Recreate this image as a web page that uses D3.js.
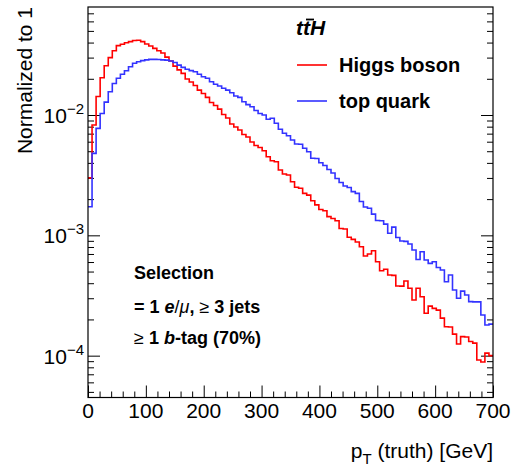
<!DOCTYPE html>
<html><head><meta charset="utf-8">
<script src="https://cdn.jsdelivr.net/npm/d3@7"></script>
<style>
body{margin:0;background:#fff}
svg{display:block}
text{font-family:"Liberation Sans",Arial,Helvetica,sans-serif;fill:#000}
</style></head>
<body><svg id="c" width="512" height="470"></svg>
<script>
// ---- data (bins of 7 GeV from 0 to 700) ----
const binWidth = 7;
const xTicks = [0, 100, 200, 300, 400, 500, 600, 700];
const yTicks = [1e-4, 1e-3, 1e-2];
const yTickExp = ["\u22124", "\u22123", "\u22122"];
const seriesNames = ["Higgs boson", "top quark"];
const higgs = [3.00e-3, 8.26e-3, 1.425e-2, 2.04e-2, 2.57e-2, 3.00e-2, 3.42e-2, 3.77e-2, 3.87e-2, 3.99e-2,
4.07e-2, 4.16e-2, 4.18e-2, 4.07e-2, 3.89e-2, 3.75e-2, 3.58e-2, 3.42e-2, 3.28e-2, 3.03e-2,
2.81e-2, 2.55e-2, 2.37e-2, 2.22e-2, 1.99e-2, 1.88e-2, 1.76e-2, 1.61e-2, 1.51e-2, 1.40e-2,
1.27e-2, 1.20e-2, 1.12e-2, 1.01e-2, 9.44e-3, 8.42e-3, 7.95e-3, 7.50e-3, 6.88e-3, 6.56e-3,
5.96e-3, 5.58e-3, 5.37e-3, 5.05e-3, 4.50e-3, 4.17e-3, 4.09e-3, 3.49e-3, 3.23e-3, 3.17e-3,
2.79e-3, 2.51e-3, 2.46e-3, 2.23e-3, 2.16e-3, 1.94e-3, 1.79e-3, 1.64e-3, 1.60e-3, 1.43e-3,
1.38e-3, 1.32e-3, 1.14e-3, 1.13e-3, 9.63e-4, 9.26e-4, 8.80e-4, 8.04e-4, 6.73e-4, 6.99e-4,
7.45e-4, 6.03e-4, 5.08e-4, 5.22e-4, 4.68e-4, 4.65e-4, 3.79e-4, 3.78e-4, 4.17e-4, 3.63e-4,
2.90e-4, 3.63e-4, 3.09e-4, 2.25e-4, 2.58e-4, 2.47e-4, 2.39e-4, 2.05e-4, 1.74e-4, 1.73e-4,
1.51e-4, 1.25e-4, 1.44e-4, 1.43e-4, 1.31e-4, 1.27e-4, 9.19e-5, 8.85e-5, 1.05e-4, 1.00e-4];
const topq = [1.73e-3, 4.80e-3, 7.75e-3, 1.03e-2, 1.28e-2, 1.56e-2, 1.83e-2, 2.02e-2, 2.18e-2, 2.33e-2,
2.52e-2, 2.69e-2, 2.77e-2, 2.83e-2, 2.87e-2, 2.90e-2, 2.90e-2, 2.89e-2, 2.87e-2, 2.86e-2,
2.81e-2, 2.73e-2, 2.60e-2, 2.49e-2, 2.40e-2, 2.34e-2, 2.29e-2, 2.18e-2, 2.08e-2, 2.02e-2,
1.89e-2, 1.80e-2, 1.74e-2, 1.67e-2, 1.61e-2, 1.53e-2, 1.44e-2, 1.40e-2, 1.29e-2, 1.22e-2,
1.17e-2, 1.09e-2, 1.03e-2, 1.00e-2, 9.21e-3, 9.39e-3, 8.53e-3, 7.61e-3, 7.05e-3, 6.73e-3,
6.20e-3, 5.74e-3, 5.72e-3, 5.29e-3, 4.95e-3, 4.37e-3, 4.35e-3, 4.01e-3, 3.80e-3, 3.52e-3,
3.30e-3, 2.97e-3, 2.75e-3, 2.57e-3, 2.50e-3, 2.31e-3, 2.23e-3, 1.91e-3, 1.72e-3, 1.68e-3,
1.50e-3, 1.33e-3, 1.32e-3, 1.24e-3, 1.04e-3, 1.17e-3, 9.59e-4, 8.97e-4, 8.90e-4, 8.47e-4,
7.55e-4, 6.29e-4, 7.30e-4, 6.23e-4, 5.85e-4, 6.03e-4, 5.40e-4, 5.15e-4, 4.11e-4, 4.68e-4,
3.51e-4, 3.00e-4, 3.44e-4, 3.19e-4, 2.81e-4, 2.80e-4, 2.80e-4, 2.18e-4, 1.80e-4, 1.83e-4];

// ---- layout ----
const L = 88, R = 493, T = 7, B = 397.5;
const svg = d3.select("#c");
const x = d3.scaleLinear([0, 700], [L, R]);
const y = d3.scaleLog([4.49e-5, 0.079], [B, T]);
const colors = ["#ff0000", "#3333ff"];

// minor ticks
const xMinor = d3.range(0, 701, 20).filter(v => v % 100 !== 0);
const yMinor = [];
for (let e = -5; e <= -2; e++) for (let k = 2; k <= 9; k++) {
  const v = k * Math.pow(10, e);
  if (v >= y.domain()[0] && v <= y.domain()[1]) yMinor.push(v);
}
function axisG(axis, tr) {
  const g = svg.append("g").attr("transform", tr).call(axis);
  g.select(".domain").remove();
  g.selectAll("line").attr("stroke", "#000").attr("stroke-width", 1);
  return g;
}
axisG(d3.axisBottom(x).tickValues(xTicks).tickSize(-12).tickFormat(""), `translate(0,${B})`);
axisG(d3.axisBottom(x).tickValues(xMinor).tickSize(-6).tickFormat(""), `translate(0,${B})`);
axisG(d3.axisLeft(y).tickValues(yTicks).tickSize(-12).tickFormat(""), `translate(${L},0)`);
axisG(d3.axisLeft(y).tickValues(yMinor).tickSize(-6).tickFormat(""), `translate(${L},0)`);
axisG(d3.axisRight(y).tickValues(yTicks).tickSize(-12).tickFormat(""), `translate(${R},0)`);
axisG(d3.axisRight(y).tickValues(yMinor).tickSize(-6).tickFormat(""), `translate(${R},0)`);

// histograms
const line = d3.line().x(d => x(d[0])).y(d => y(d[1])).curve(d3.curveStepAfter);
[higgs, topq].forEach((s, si) => {
  const pts = s.map((v, i) => [i * binWidth, v]);
  pts.push([s.length * binWidth, s[s.length - 1]]);
  svg.append("path").attr("d", line(pts)).attr("fill", "none")
    .attr("stroke", colors[si]).attr("stroke-width", 1.6);
});

// frame
svg.append("rect").attr("x", L).attr("y", T).attr("width", R - L).attr("height", B - T)
  .attr("fill", "none").attr("stroke", "#000").attr("stroke-width", 1.2);

// x tick labels
svg.append("g").selectAll("text").data(xTicks).join("text")
  .attr("x", d => x(d)).attr("y", 418).attr("text-anchor", "middle")
  .attr("font-size", 21).text(d => d);
// y tick labels
yTicks.forEach((v, i) => {
  const t = svg.append("text").attr("x", 84).attr("y", y(v) + 8).attr("text-anchor", "end").attr("font-size", 21);
  t.append("tspan").text("10");
  t.append("tspan").attr("dy", -9).attr("font-size", 15).text(yTickExp[i]);
});

// axis titles
const xt = svg.append("text").attr("x", R).attr("y", 458).attr("text-anchor", "end").attr("font-size", 21);
xt.append("tspan").text("p");
xt.append("tspan").attr("dy", 6).attr("font-size", 15).text("T");
xt.append("tspan").attr("dy", -6).text(" (truth) [GeV]");
svg.append("text").attr("transform", `translate(31.5,${T}) rotate(-90)`).attr("text-anchor", "end")
  .attr("font-size", 21).text("Normalized to 1");

// legend
const tth = svg.append("text").attr("x", 296).attr("y", 35).attr("font-size", 21)
  .attr("font-weight", "bold").attr("font-style", "italic").text("ttH");
const n = tth.node();
const s1 = n.getStartPositionOfChar(1).x, e1 = n.getEndPositionOfChar(1).x;
svg.append("line").attr("x1", s1 + 3).attr("x2", e1 + 4).attr("y1", 19.5).attr("y2", 19.5)
  .attr("stroke", "#000").attr("stroke-width", 1.8);
const legY = [65, 101];
seriesNames.forEach((nm, i) => {
  svg.append("line").attr("x1", 297).attr("x2", 327).attr("y1", legY[i]).attr("y2", legY[i])
    .attr("stroke", colors[i]).attr("stroke-width", 1.6);
  svg.append("text").attr("x", 339).attr("y", legY[i] + 7).attr("font-size", 20)
    .attr("font-weight", "bold").text(nm);
});

// selection text
svg.append("text").attr("x", 134).attr("y", 279).attr("font-size", 18).attr("font-weight", "bold").text("Selection");
const l2 = svg.append("text").attr("x", 134).attr("y", 313).attr("font-size", 18).attr("font-weight", "bold");
l2.append("tspan").text("= 1 ");
l2.append("tspan").attr("font-style", "italic").text("e");
l2.append("tspan").attr("font-weight", "normal").text("/");
l2.append("tspan").attr("font-weight", "normal").attr("font-style", "italic").text("\u03bc");
l2.append("tspan").text(", ");
l2.append("tspan").attr("font-weight", "normal").text("\u2265");
l2.append("tspan").text(" 3 jets");
const l3 = svg.append("text").attr("x", 134).attr("y", 344).attr("font-size", 18).attr("font-weight", "bold");
l3.append("tspan").attr("font-weight", "normal").text("\u2265");
l3.append("tspan").text(" 1 ");
l3.append("tspan").attr("font-style", "italic").text("b");
l3.append("tspan").text("-tag (70%)");
</script></body></html>
